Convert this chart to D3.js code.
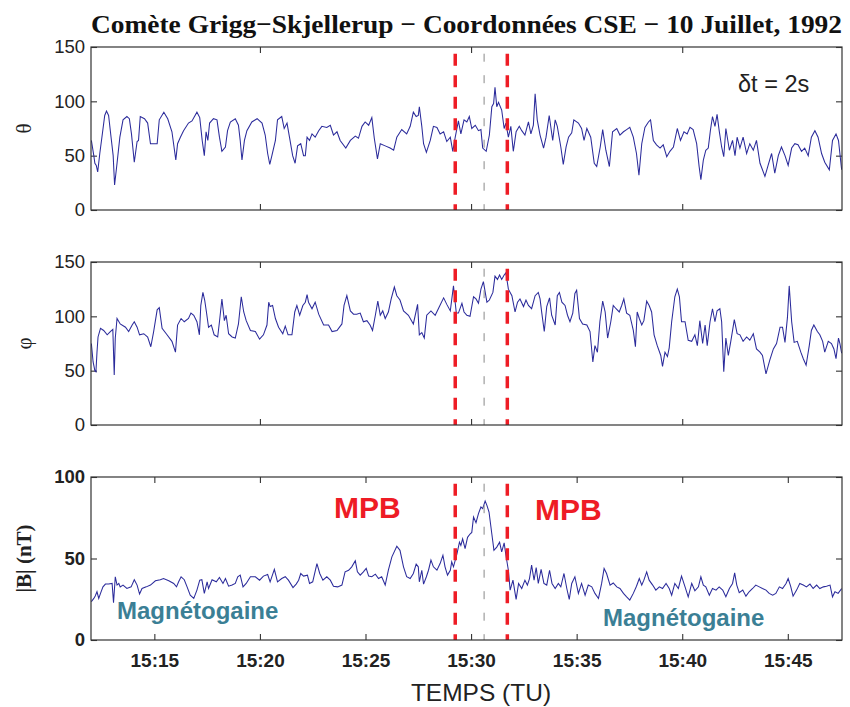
<!DOCTYPE html>
<meta charset="utf-8">
<style>
  body { margin: 0; background: #fff; }
  svg text { font-family: "Liberation Sans", Arial, sans-serif; }
</style>
<svg width="850" height="707"></svg>
<script src="https://cdn.jsdelivr.net/npm/d3@7"></script>
<script>

  // seconds after 15:12:00, value
  var theta = [[1,64],[8,50],[11,43],[15,41],[19,35],[25,52],[31,67],[39,87],[44,91],[50,87],[57,67],[63,50],[67,23],[74,43],[82,67],[91,83],[102,86],[109,84],[115,70],[123,44],[131,63],[135,64],[140,86],[152,84],[161,80],[169,61],[188,61],[194,83],[207,90],[218,84],[230,72],[241,46],[246,61],[254,67],[263,73],[277,80],[287,82],[301,90],[309,85],[316,64],[322,50],[327,72],[332,64],[337,80],[348,84],[358,83],[365,67],[372,54],[382,58],[388,73],[396,81],[410,84],[419,78],[424,64],[429,46],[436,64],[443,73],[457,81],[472,84],[486,80],[495,69],[502,52],[508,42],[514,50],[524,64],[530,83],[542,86],[549,75],[557,80],[564,67],[573,50],[580,43],[587,59],[596,61],[604,50],[609,50],[614,67],[621,64],[628,70],[637,67],[647,73],[656,77],[670,76],[680,78],[689,69],[699,72],[708,64],[724,57],[737,64],[751,68],[760,66],[770,77],[779,81],[789,78],[798,85],[805,66],[814,47],[822,61],[836,59],[850,57],[860,55],[869,67],[883,74],[897,70],[907,77],[916,90],[924,86],[930,87],[933,95],[940,77],[945,61],[953,53],[964,64],[973,77],[983,76],[992,70],[1002,72],[1011,63],[1021,67],[1028,54],[1035,67],[1044,82],
    [1051,70],[1060,83],[1068,81],[1075,86],[1082,75],[1092,78],[1101,73],[1108,74],[1113,57],[1123,54],[1132,69],[1139,95],[1144,98],[1148,113],[1153,95],[1158,99],[1167,92],[1174,75],[1179,80],[1186,67],[1193,77],[1200,54],[1208,72],[1217,77],[1224,73],[1233,69],[1243,81],[1250,70],[1257,78],[1262,107],[1268,83],[1276,69],[1286,57],[1293,67],[1302,87],[1312,64],[1319,83],[1325,77],[1335,58],[1342,42],[1350,58],[1357,67],[1366,71],[1372,83],[1385,80],[1394,75],[1401,64],[1409,75],[1420,67],[1430,43],[1437,40],[1447,58],[1454,74],[1463,55],[1473,40],[1482,72],[1494,75],[1503,69],[1513,72],[1522,74],[1531,76],[1541,67],[1550,52],[1557,32],[1565,61],[1574,76],[1584,81],[1590,83],[1598,64],[1607,60],[1617,57],[1626,60],[1636,49],[1645,54],[1655,58],[1666,75],[1675,64],[1685,72],[1694,70],[1702,76],[1711,74],[1721,61],[1728,40],[1733,28],[1740,46],[1747,55],[1754,57],[1760,73],[1766,86],[1773,77],[1779,88],[1785,73],[1792,58],[1798,49],[1804,75],[1814,55],[1823,64],[1830,50],[1836,67],[1844,57],[1853,67],[1863,52],[1872,61],[1882,55],[1891,64],[1901,43],[1915,31],[1924,41],[1934,52],[1943,34],[1953,50],[1962,58],[1972,50],[1981,41],[1991,57],[2000,61],[2009,60],[2019,54],[2028,57],[2038,50],[2047,67],[2057,73],[2066,67],[2076,52],[2085,44],[2098,37],[2107,64],[2117,70],[2124,64],[2133,37]];

  var phi = [[1,75],[6,58],[11,50],[14,49],[17,67],[20,81],[27,89],[36,87],[46,83],[55,86],[62,88],[66,46],[69,80],[74,98],[83,93],[98,90],[107,86],[117,92],[123,95],[131,90],[138,83],[150,84],[161,81],[170,72],[178,86],[188,106],[194,108],[202,89],[216,83],[230,77],[240,67],[246,92],[256,98],[265,95],[277,98],[284,103],[292,101],[301,95],[308,83],[312,110],[318,122],[323,115],[328,104],[334,90],[342,92],[350,83],[360,81],[365,95],[372,116],[379,96],[384,101],[391,84],[401,81],[410,80],[419,93],[427,118],[434,104],[441,96],[453,87],[467,86],[479,79],[490,83],[500,92],[505,113],[509,109],[516,110],[524,98],[533,90],[545,84],[552,91],[560,83],[571,83],[579,104],[585,110],[593,101],[602,110],[609,113],[614,120],[618,113],[628,107],[637,113],[647,102],[661,92],[675,92],[685,86],[699,87],[713,93],[719,110],[727,119],[737,105],[746,102],[755,102],[765,103],[774,95],[784,96],[793,92],[800,87],[808,101],[815,114],[822,101],[829,105],[836,98],[845,104],[853,116],[862,127],[869,119],[878,115],[888,105],[902,101],[916,93],[928,111],[933,83],[940,85],[947,80],[954,101],[966,105],[978,101],[987,107],[1002,117],[1011,111],[1021,105],[1030,128],[1038,103],[1044,103],
    [1054,112],[1060,104],[1068,101],[1077,100],[1087,118],[1094,116],[1101,112],[1108,125],[1115,132],[1125,113],[1132,115],[1142,122],[1148,137],[1155,134],[1161,138],[1167,134],[1174,138],[1179,140],[1186,125],[1196,119],[1205,104],[1212,113],[1219,116],[1229,109],[1236,115],[1243,110],[1252,107],[1262,119],[1271,122],[1276,116],[1281,103],[1288,86],[1295,109],[1303,117],[1309,101],[1319,92],[1325,119],[1331,122],[1338,113],[1347,110],[1354,101],[1361,95],[1369,103],[1375,121],[1380,124],[1388,98],[1397,93],[1409,92],[1418,86],[1426,58],[1432,73],[1439,67],[1446,95],[1454,114],[1461,104],[1468,80],[1477,95],[1484,110],[1492,107],[1501,104],[1508,110],[1514,116],[1522,103],[1531,101],[1541,87],[1547,72],[1552,104],[1558,98],[1565,92],[1571,96],[1579,114],[1586,110],[1593,104],[1600,83],[1609,73],[1619,64],[1624,54],[1631,67],[1638,63],[1643,71],[1650,95],[1659,118],[1666,125],[1672,118],[1678,95],[1688,95],[1697,78],[1707,77],[1716,83],[1723,73],[1730,96],[1738,75],[1745,92],[1751,73],[1759,95],[1766,107],[1773,95],[1779,105],[1787,107],[1792,95],[1798,49],[1804,80],[1811,64],[1818,77],[1828,97],[1836,84],[1844,83],[1853,77],[1863,81],[1872,78],[1882,84],[1891,70],[1901,67],[1908,64],[1918,47],[1929,60],[1939,70],[1948,75],[1958,90],[1965,90],[1972,76],[1979,99],[1984,128],[1991,95],[1998,76],[2007,77],[2017,67],[2024,61],[2032,55],[2041,73],[2047,87],[2054,92],[2064,86],[2071,83],[2079,77],[2085,67],[2095,77],[2104,75],[2111,70],[2117,61],[2124,80],[2128,75],[2133,66]];

  var bmag = [[1,23.5],[8,25.5],[12,27],[17,29.6],[22,25.5],[27,28.6],[34,32.6],[41,34.3],[50,34.3],[60,34.7],[64,22.8],[69,38.8],[74,33.7],[79,34.7],[83,32.6],[91,33.7],[102,31.6],[114,32.6],[123,37],[131,33.7],[138,28.2],[145,31.6],[157,32.6],[169,33.7],[183,36.3],[197,37],[206,37.7],[221,36.3],[235,34.7],[243,32.6],[249,35.7],[256,38.8],[265,37],[273,32.6],[282,27.5],[292,25.5],[301,30.6],[309,36.7],[315,37],[322,28.6],[330,35.7],[334,31.6],[344,37],[356,35.7],[365,38.4],[375,34.7],[382,37.7],[391,33],[401,33.7],[410,34.7],[417,38.8],[424,39.8],[432,32.6],[441,34.7],[453,38.8],[467,38.8],[479,36.7],[490,39.2],[502,40.2],[509,35.7],[521,43.3],[530,35.7],[542,37.7],[552,38.8],[561,36.7],[574,32.2],[583,34.3],[590,36.7],[596,40.8],[604,39.2],[615,39.8],[621,34.7],[630,35.7],[642,46.9],[650,40.8],[659,36.7],[670,38.8],[680,36.7],[689,33],[701,32.6],[713,33.7],[722,41.8],[732,42.8],[741,44.9],[751,48.6],[757,41.8],[765,39.8],[774,41.8],[782,43.9],[789,39.2],[798,38.8],[808,40.4],[817,37.7],[826,38.8],[836,33.7],[845,42.8],[855,51],[869,57.5],[878,55],[888,44.9],[897,38.8],[907,37.7],[916,40.8],[924,46.5],[930,44.9],[933,35.7],[940,42.8],[945,34.3],[953,38.8],[959,42.8],[966,49],[973,44.9],[983,42.8],[992,46.9],[1000,52],[1006,44.9],[1013,39.8],[1021,42.8],[1025,47.9],[1030,44.9],[1040,53],[1047,60],
    [1051,58],[1056,62],[1063,56],[1070,63],[1077,65],[1082,66],[1087,75.5],[1094,72],[1101,77.5],[1108,81.6],[1113,80.6],[1120,85.3],[1125,82.6],[1131,78.5],[1139,65],[1145,55],[1153,57],[1161,60],[1167,54],[1174,59.6],[1179,52],[1186,42.8],[1191,30.6],[1199,36.7],[1208,24.9],[1215,34.7],[1224,31.6],[1233,36.7],[1240,33.7],[1246,37.7],[1252,45.9],[1259,36.7],[1265,44.5],[1271,34.7],[1279,43.3],[1287,34.7],[1295,33.7],[1303,42.8],[1310,34.7],[1319,31.6],[1328,34.7],[1335,32.6],[1344,40.8],[1352,31.6],[1359,24.9],[1366,34.7],[1375,38.8],[1385,28.6],[1394,34.7],[1404,27.5],[1413,33.7],[1423,32.6],[1432,28.6],[1442,25.5],[1451,34.7],[1458,43.9],[1465,40.8],[1475,33.7],[1484,35],[1494,32.6],[1503,31.6],[1513,28.6],[1522,26.5],[1531,24.5],[1541,28.6],[1550,33],[1558,37.7],[1565,33.7],[1571,36.7],[1579,41.8],[1586,36.7],[1596,33.7],[1605,30.6],[1615,32.6],[1624,31.6],[1634,34.7],[1643,31.6],[1650,27.5],[1659,34.7],[1669,31.6],[1678,39.2],[1688,32.6],[1697,26.5],[1707,34.7],[1716,30.2],[1726,32.6],[1733,38.8],[1740,33.7],[1747,32.6],[1757,27.5],[1766,31.6],[1776,30.6],[1785,32.6],[1795,30.6],[1804,26.5],[1814,31.6],[1823,34.7],[1829,41.2],[1835,33.7],[1842,29],[1852,30.6],[1861,26.9],[1870,29.6],[1880,31.6],[1889,33.7],[1899,32.6],[1908,31.6],[1918,30.6],[1927,28.6],[1937,27.5],[1946,28.6],[1956,32.6],[1965,31.6],[1975,34.7],[1981,37.7],[1988,33],[1995,26.9],[2005,30.6],[2014,34.7],[2024,33.7],[2033,32.6],[2043,34.3],[2052,31.6],[2062,33.7],[2071,31.6],[2081,32.6],[2090,33],[2100,33.7],[2107,26.5],[2114,29.6],[2123,28.6],[2133,31.6]];

  var startTime = "15:12:00",
      endTime = "15:47:34",
      timeTicks = ["15:15","15:20","15:25","15:30","15:35","15:40","15:45"],
      timeTicksUpper = ["15:20","15:30","15:40"],
      mpbTimes = ["15:29:15","15:31:43"],
      centerTime = "15:30:37";

  var angleTicks = [0, 50, 100, 150],
      bTicks = [0, 50, 100];

  var svg = d3.select("svg"),
      left = 91, right = 842;

  var parseHMS = d3.timeParse("%H:%M:%S"),
      parseHM = d3.timeParse("%H:%M"),
      t0 = parseHMS(startTime);

  var x = d3.scaleTime()
      .domain([t0, parseHMS(endTime)])
      .range([left, right]);

  function tsec(s) { return new Date(+t0 + s * 1000); }

  var panels = [
    {data: theta, top: 47, bottom: 210, max: 150, ticks: angleTicks, label: "θ", xticks: timeTicksUpper, bold: false},
    {data: phi, top: 262, bottom: 425, max: 150, ticks: angleTicks, label: "φ", xticks: timeTicksUpper, bold: false},
    {data: bmag, top: 477, bottom: 640, max: 100, ticks: bTicks, label: "|B| (nT)", xticks: timeTicks, bold: true}
  ];

  panels.forEach(function(p, i) {
    var y = d3.scaleLinear().domain([0, p.max]).range([p.bottom, p.top]);
    var g = svg.append("g");

    g.append("clipPath").attr("id", "clip" + i)
      .append("rect").attr("x", left).attr("y", p.top)
      .attr("width", right - left).attr("height", p.bottom - p.top);

    // y axis left with labels, right without
    var yl = g.append("g").attr("transform", "translate(" + left + ",0)")
      .call(d3.axisLeft(y).tickValues(p.ticks).tickSizeInner(-6).tickSizeOuter(0).tickPadding(6));
    var yr = g.append("g").attr("transform", "translate(" + right + ",0)")
      .call(d3.axisRight(y).tickValues(p.ticks).tickSizeInner(-6).tickSizeOuter(0).tickFormat(""));

    var xt = p.xticks.map(parseHM);
    var xb = g.append("g").attr("transform", "translate(0," + p.bottom + ")")
      .call(d3.axisBottom(x).tickValues(xt).tickSizeInner(-6).tickSizeOuter(0).tickPadding(14)
        .tickFormat(i === 2 ? d3.timeFormat("%H:%M") : ""));
    var xtp = g.append("g").attr("transform", "translate(0," + p.top + ")")
      .call(d3.axisTop(x).tickValues(xt).tickSizeInner(-6).tickSizeOuter(0).tickFormat(""));

    [yl, yr, xb, xtp].forEach(function(a) {
      a.select(".domain").remove();
      a.selectAll(".tick line").attr("stroke", "#333").attr("stroke-width", 1.1);
    });
    yl.selectAll(".tick text").attr("font-size", 18.5).attr("fill", "#222")
      .attr("font-weight", p.bold ? "bold" : "normal")
      .attr("font-family", "Liberation Sans, Arial, sans-serif");
    xb.selectAll(".tick text").attr("font-size", 19).attr("fill", "#222")
      .attr("font-weight", "bold").attr("font-family", "Liberation Sans, Arial, sans-serif");

    // series
    var line = d3.line()
      .x(function(d) { return x(tsec(d[0])); })
      .y(function(d) { return y(d[1]); });
    g.append("path").datum(p.data)
      .attr("clip-path", "url(#clip" + i + ")")
      .attr("fill", "none").attr("stroke", "#2b2b9b").attr("stroke-width", 1.05)
      .attr("d", line);

    // MPB markers
    g.append("line")
      .attr("x1", x(parseHMS(centerTime))).attr("x2", x(parseHMS(centerTime)))
      .attr("y1", p.top).attr("y2", p.bottom)
      .attr("stroke", "#888").attr("stroke-width", 1)
      .attr("stroke-dasharray", "8,13.5").attr("stroke-dashoffset", 14.8);
    mpbTimes.forEach(function(t) {
      g.append("line")
        .attr("x1", x(parseHMS(t))).attr("x2", x(parseHMS(t)))
        .attr("y1", p.top).attr("y2", p.bottom)
        .attr("stroke", "#ee1c25").attr("stroke-width", 3.5)
        .attr("stroke-dasharray", "12,9.5").attr("stroke-dashoffset", 14.8);
    });

    // frame
    g.append("rect").attr("x", left).attr("y", p.top)
      .attr("width", right - left).attr("height", p.bottom - p.top)
      .attr("fill", "none").attr("stroke", "#333").attr("stroke-width", 1.2);

    // y label
    g.append("text")
      .attr("transform", "translate(31," + ((p.top + p.bottom) / 2) + ") rotate(-90)")
      .attr("text-anchor", "middle")
      .style("font-family", "Liberation Serif, Times New Roman, serif")
      .attr("font-size", 21)
      .attr("font-weight", p.bold ? "bold" : "normal")
      .attr("fill", "#222")
      .text(p.label);
  });

  // title
  svg.append("text")
    .attr("x", (left + right) / 2).attr("y", 33)
    .attr("text-anchor", "middle")
    .style("font-family", "Liberation Serif, Times New Roman, serif")
    .attr("font-size", 26).attr("font-weight", "bold").attr("fill", "#111")
    .attr("textLength", right - left).attr("lengthAdjust", "spacingAndGlyphs")
    .text("Comète Grigg−Skjellerup − Coordonnées CSE − 10 Juillet, 1992");

  svg.append("text")
    .attr("x", 738).attr("y", 92)
    .attr("font-size", 23.5).attr("fill", "#222")
    .text("δt = 2s");

  svg.append("text")
    .attr("x", 481).attr("y", 701)
    .attr("text-anchor", "middle")
    .attr("font-size", 24.5).attr("fill", "#222")
    .text("TEMPS (TU)");

  [[334, 518], [535, 520]].forEach(function(p) {
    svg.append("text").attr("x", p[0]).attr("y", p[1])
      .attr("font-size", 30).attr("font-weight", "bold").attr("fill", "#ee1c25")
      .text("MPB");
  });
  [[117, 619], [603, 626]].forEach(function(p) {
    svg.append("text").attr("x", p[0]).attr("y", p[1])
      .attr("font-size", 24).attr("font-weight", "bold").attr("fill", "#3b7f95")
      .text("Magnétogaine");
  });

</script>
